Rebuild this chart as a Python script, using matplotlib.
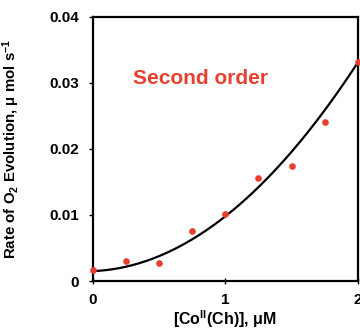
import numpy as np
import matplotlib
matplotlib.use('Agg')
import matplotlib.pyplot as plt

plt.rcParams['font.family'] = ['Liberation Sans', 'DejaVu Sans']
plt.rcParams['font.weight'] = 'bold'
plt.rcParams['mathtext.default'] = 'regular'

# data
conc = [0, 0.25, 0.5, 0.75, 1.0, 1.25, 1.5, 1.75, 2.0]
rate = [0.0017, 0.0030, 0.0027, 0.0075, 0.0102, 0.0156, 0.0174, 0.0241, 0.0332]

# second order fit curve (coefficients: c0, c1, c2)
fit_coef = [0.0015, 0.0008, 0.0075]
xf = np.linspace(0, 2, 200)
yf = fit_coef[0] + fit_coef[1] * xf + fit_coef[2] * xf ** 2

fig = plt.figure(figsize=(3.6, 3.31), dpi=100)
ax = fig.add_axes([0.258, 0.151, 0.736, 0.798])

ax.plot(xf, yf, color='black', lw=1.6, zorder=2)
ax.plot(conc, rate, 'o', color='#e8402e', ms=4.8, mec='none', zorder=3, clip_on=False)

ax.set_xlim(0, 2)
ax.set_ylim(0, 0.04)
ax.set_xticks([0, 1, 2])
ax.set_xticklabels(['0', '1', '2'])
ax.set_yticks([0, 0.01, 0.02, 0.03, 0.04])
ax.set_yticklabels(['0', '0.01', '0.02', '0.03', '0.04'])
ax.tick_params(axis='x', direction='inout', length=5, width=1, labelsize=11, pad=6)
ax.tick_params(axis='y', direction='out', length=3, width=1, labelsize=11, pad=7)
for s in ax.spines.values():
    s.set_linewidth(1.6)

ax.set_xlabel('[Co$^{II}$(Ch)], μM', fontsize=11.5, fontweight='bold')
ax.xaxis.set_label_coords(0.5, -0.105)
ax.set_ylabel('Rate of O$_2$ Evolution, $\\mu$ mol s$^{-1}$', fontsize=10.8,
              fontweight='bold')
ax.yaxis.set_label_coords(-0.268, 0.5)

ax.text(0.15, 0.765, 'Second order', transform=ax.transAxes, color='#e8402e',
        fontsize=15, fontweight='bold', va='center', ha='left')

fig.savefig('out.png', dpi=100)
